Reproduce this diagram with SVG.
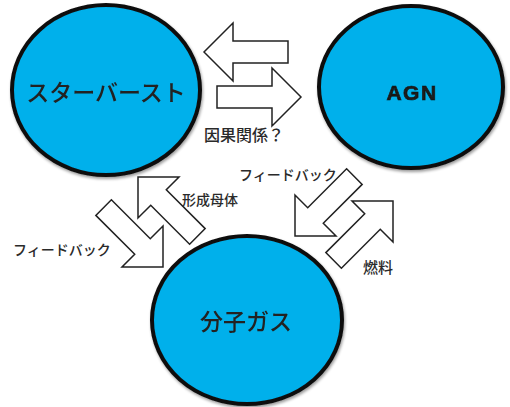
<svg xmlns="http://www.w3.org/2000/svg" width="510" height="407" viewBox="0 0 510 407">
<defs>
<style>
.node{fill:#00B0EB;stroke:#111;stroke-width:4}
.arr{fill:#fff;stroke:#222;stroke-width:1.5;stroke-linejoin:miter}
.t{font-family:"Noto Sans CJK JP","Noto Sans",sans-serif;fill:#222;text-anchor:middle}
.lbl{font-family:"Noto Sans CJK JP","Noto Sans",sans-serif;fill:#2a2a2a;font-size:14px;font-weight:500}
.agn{font-family:"Liberation Sans",Arial,sans-serif;font-weight:bold;font-size:21px;letter-spacing:1.5px;fill:#1a1a1a;stroke:#1a1a1a;stroke-width:0.7px;text-anchor:middle}
</style>
<filter id="sh" x="-10%" y="-10%" width="120%" height="120%">
<feGaussianBlur in="SourceAlpha" stdDeviation="1.5"/>
<feOffset dx="1" dy="1.5" result="b"/>
<feComponentTransfer><feFuncA type="linear" slope="0.4"/></feComponentTransfer>
<feMerge><feMergeNode/><feMergeNode in="SourceGraphic"/></feMerge>
</filter>
<path id="ar" d="M0,0 L-29,-29 L-29,-11 L-84,-11 L-84,11 L-29,11 L-29,29 Z"/>
</defs>
<rect width="510" height="407" fill="#fff"/>
<g id="starburst" filter="url(#sh)">
<ellipse class="node" cx="106" cy="90" rx="94" ry="85"/>
<text class="t" x="106" y="101" font-size="23" font-weight="500">スターバースト</text>
</g>
<g id="agn" filter="url(#sh)">
<ellipse class="node" cx="411" cy="87" rx="92" ry="81"/>
<text class="agn" x="412" y="99.5">AGN</text>
</g>
<g id="gas" filter="url(#sh)">
<ellipse class="node" cx="247" cy="320" rx="95" ry="84"/>
<text class="t" x="246" y="330" font-size="23" font-weight="500">分子ガス</text>
</g>
<g id="connectors">
<use href="#ar" class="arr" transform="translate(204,52) rotate(180)"/>
<use href="#ar" class="arr" transform="translate(301,97)"/>
<use href="#ar" class="arr" transform="translate(138,177) rotate(225)"/>
<use href="#ar" class="arr" transform="translate(163,267) rotate(45)"/>
<use href="#ar" class="arr" transform="translate(295,236) rotate(135)"/>
<use href="#ar" class="arr" transform="translate(393,201) rotate(-45)"/>
<text class="lbl" x="204" y="141" style="font-size:16px">因果関係？</text>
<text class="lbl" x="239" y="180">フィードバック</text>
<text class="lbl" x="182" y="205">形成母体</text>
<text class="lbl" x="13" y="255">フィードバック</text>
<text class="lbl" x="363" y="273" style="font-size:15px">燃料</text>
</g>
</svg>
